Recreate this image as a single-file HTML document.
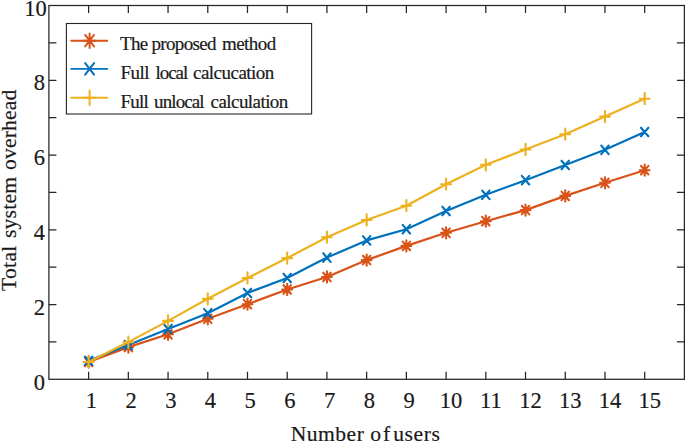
<!DOCTYPE html>
<html><head><meta charset="utf-8"><title>chart</title>
<style>html,body{margin:0;padding:0;background:#fff;}body{width:685px;height:442px;overflow:hidden;}svg{display:block;}text{font-family:"Liberation Serif",serif;fill:#1a1a1a;stroke:#1a1a1a;stroke-width:0.2px;}</style></head><body>
<svg width="685" height="442" viewBox="0 0 685 442">
<rect x="0" y="0" width="685" height="442" fill="#ffffff"/>
<g fill="none" stroke="#262626" stroke-width="1.25">
<rect x="48.90" y="5.50" width="635.50" height="373.80"/>
<path d="M88.62 379.30V371.80M88.62 5.50V13.00M128.34 379.30V371.80M128.34 5.50V13.00M168.06 379.30V371.80M168.06 5.50V13.00M207.78 379.30V371.80M207.78 5.50V13.00M247.49 379.30V371.80M247.49 5.50V13.00M287.21 379.30V371.80M287.21 5.50V13.00M326.93 379.30V371.80M326.93 5.50V13.00M366.65 379.30V371.80M366.65 5.50V13.00M406.37 379.30V371.80M406.37 5.50V13.00M446.09 379.30V371.80M446.09 5.50V13.00M485.81 379.30V371.80M485.81 5.50V13.00M525.52 379.30V371.80M525.52 5.50V13.00M565.24 379.30V371.80M565.24 5.50V13.00M604.96 379.30V371.80M604.96 5.50V13.00M644.68 379.30V371.80M644.68 5.50V13.00M48.90 341.92H56.40M684.40 341.92H676.90M48.90 304.54H56.40M684.40 304.54H676.90M48.90 267.16H56.40M684.40 267.16H676.90M48.90 229.78H56.40M684.40 229.78H676.90M48.90 192.40H56.40M684.40 192.40H676.90M48.90 155.02H56.40M684.40 155.02H676.90M48.90 117.64H56.40M684.40 117.64H676.90M48.90 80.26H56.40M684.40 80.26H676.90M48.90 42.88H56.40M684.40 42.88H676.90"/>
</g>
<g font-size="22.5">
<text x="45.10" y="389.50" text-anchor="end">0</text>
<text x="45.10" y="314.74" text-anchor="end">2</text>
<text x="45.10" y="239.98" text-anchor="end">4</text>
<text x="45.10" y="165.22" text-anchor="end">6</text>
<text x="45.10" y="90.46" text-anchor="end">8</text>
<text x="46.80" y="15.70" text-anchor="end">10</text>
<text x="91.32" y="408.40" text-anchor="middle">1</text>
<text x="131.04" y="408.40" text-anchor="middle">2</text>
<text x="170.76" y="408.40" text-anchor="middle">3</text>
<text x="210.47" y="408.40" text-anchor="middle">4</text>
<text x="250.19" y="408.40" text-anchor="middle">5</text>
<text x="289.91" y="408.40" text-anchor="middle">6</text>
<text x="329.63" y="408.40" text-anchor="middle">7</text>
<text x="369.35" y="408.40" text-anchor="middle">8</text>
<text x="409.07" y="408.40" text-anchor="middle">9</text>
<text x="451.09" y="408.40" text-anchor="middle">10</text>
<text x="490.81" y="408.40" text-anchor="middle">11</text>
<text x="530.52" y="408.40" text-anchor="middle">12</text>
<text x="570.24" y="408.40" text-anchor="middle">13</text>
<text x="609.96" y="408.40" text-anchor="middle">14</text>
<text x="649.68" y="408.40" text-anchor="middle">15</text>
</g>
<text x="290.70" y="441.00" textLength="73.20" lengthAdjust="spacing" font-size="21.60">Number</text>
<text x="370.30" y="441.00" textLength="19.80" lengthAdjust="spacing" font-size="21.60">of</text>
<text x="393.20" y="441.00" textLength="46.80" lengthAdjust="spacing" font-size="21.60">users</text>
<g transform="translate(15.6 0) rotate(-90)">
<text x="-291.10" y="0.00" textLength="45.40" lengthAdjust="spacing" font-size="21.60">Total</text>
<text x="-238.10" y="0.00" textLength="61.10" lengthAdjust="spacing" font-size="21.60">system</text>
<text x="-170.00" y="0.00" textLength="80.30" lengthAdjust="spacing" font-size="21.60">overhead</text>
</g>
<polyline points="88.62,362.00 128.34,347.10 168.06,334.30 207.78,318.80 247.49,304.20 287.21,289.50 326.93,277.00 366.65,260.10 406.37,245.90 446.09,232.80 485.81,221.20 525.52,210.10 565.24,195.90 604.96,182.80 644.68,170.20" fill="none" stroke="#D95319" stroke-width="2.20" stroke-linejoin="round" stroke-linecap="round"/>
<path d="M83.72 362.00H93.52M88.62 356.40V367.60M84.92 357.70L92.32 366.30M84.92 366.30L92.32 357.70M123.44 347.10H133.24M128.34 341.50V352.70M124.64 342.80L132.04 351.40M124.64 351.40L132.04 342.80M163.16 334.30H172.96M168.06 328.70V339.90M164.36 330.00L171.76 338.60M164.36 338.60L171.76 330.00M202.88 318.80H212.68M207.78 313.20V324.40M204.08 314.50L211.47 323.10M204.08 323.10L211.47 314.50M242.59 304.20H252.39M247.49 298.60V309.80M243.79 299.90L251.19 308.50M243.79 308.50L251.19 299.90M282.31 289.50H292.11M287.21 283.90V295.10M283.51 285.20L290.91 293.80M283.51 293.80L290.91 285.20M322.03 277.00H331.83M326.93 271.40V282.60M323.23 272.70L330.63 281.30M323.23 281.30L330.63 272.70M361.75 260.10H371.55M366.65 254.50V265.70M362.95 255.80L370.35 264.40M362.95 264.40L370.35 255.80M401.47 245.90H411.27M406.37 240.30V251.50M402.67 241.60L410.07 250.20M402.67 250.20L410.07 241.60M441.19 232.80H450.99M446.09 227.20V238.40M442.39 228.50L449.79 237.10M442.39 237.10L449.79 228.50M480.91 221.20H490.71M485.81 215.60V226.80M482.11 216.90L489.51 225.50M482.11 225.50L489.51 216.90M520.62 210.10H530.42M525.52 204.50V215.70M521.82 205.80L529.23 214.40M521.82 214.40L529.23 205.80M560.34 195.90H570.14M565.24 190.30V201.50M561.54 191.60L568.94 200.20M561.54 200.20L568.94 191.60M600.06 182.80H609.86M604.96 177.20V188.40M601.26 178.50L608.66 187.10M601.26 187.10L608.66 178.50M639.78 170.20H649.58M644.68 164.60V175.80M640.98 165.90L648.38 174.50M640.98 174.50L648.38 165.90" fill="none" stroke="#D95319" stroke-width="2.10" stroke-linecap="round"/>
<polyline points="88.62,360.80 128.34,345.10 168.06,329.00 207.78,313.20 247.49,293.00 287.21,278.00 326.93,257.60 366.65,240.40 406.37,229.20 446.09,211.00 485.81,194.80 525.52,180.20 565.24,165.00 604.96,149.80 644.68,132.00" fill="none" stroke="#0072BD" stroke-width="2.20" stroke-linejoin="round" stroke-linecap="round"/>
<path d="M84.92 356.50L92.32 365.10M84.92 365.10L92.32 356.50M124.64 340.80L132.04 349.40M124.64 349.40L132.04 340.80M164.36 324.70L171.76 333.30M164.36 333.30L171.76 324.70M204.08 308.90L211.47 317.50M204.08 317.50L211.47 308.90M243.79 288.70L251.19 297.30M243.79 297.30L251.19 288.70M283.51 273.70L290.91 282.30M283.51 282.30L290.91 273.70M323.23 253.30L330.63 261.90M323.23 261.90L330.63 253.30M362.95 236.10L370.35 244.70M362.95 244.70L370.35 236.10M402.67 224.90L410.07 233.50M402.67 233.50L410.07 224.90M442.39 206.70L449.79 215.30M442.39 215.30L449.79 206.70M482.11 190.50L489.51 199.10M482.11 199.10L489.51 190.50M521.82 175.90L529.23 184.50M521.82 184.50L529.23 175.90M561.54 160.70L568.94 169.30M561.54 169.30L568.94 160.70M601.26 145.50L608.66 154.10M601.26 154.10L608.66 145.50M640.98 127.70L648.38 136.30M640.98 136.30L648.38 127.70" fill="none" stroke="#0072BD" stroke-width="2.10" stroke-linecap="round"/>
<polyline points="88.62,362.00 128.34,342.10 168.06,320.90 207.78,298.80 247.49,278.00 287.21,258.10 326.93,237.20 366.65,220.00 406.37,205.70 446.09,184.20 485.81,164.80 525.52,149.50 565.24,134.20 604.96,116.60 644.68,98.70" fill="none" stroke="#EDB120" stroke-width="2.20" stroke-linejoin="round" stroke-linecap="round"/>
<path d="M83.72 362.00H93.52M88.62 356.40V367.60M123.44 342.10H133.24M128.34 336.50V347.70M163.16 320.90H172.96M168.06 315.30V326.50M202.88 298.80H212.68M207.78 293.20V304.40M242.59 278.00H252.39M247.49 272.40V283.60M282.31 258.10H292.11M287.21 252.50V263.70M322.03 237.20H331.83M326.93 231.60V242.80M361.75 220.00H371.55M366.65 214.40V225.60M401.47 205.70H411.27M406.37 200.10V211.30M441.19 184.20H450.99M446.09 178.60V189.80M480.91 164.80H490.71M485.81 159.20V170.40M520.62 149.50H530.42M525.52 143.90V155.10M560.34 134.20H570.14M565.24 128.60V139.80M600.06 116.60H609.86M604.96 111.00V122.20M639.78 98.70H649.58M644.68 93.10V104.30" fill="none" stroke="#EDB120" stroke-width="2.10" stroke-linecap="round"/>
<rect x="66.4" y="23.5" width="245.2" height="90.5" fill="#fff" stroke="#262626" stroke-width="1.1"/>
<path d="M71.2 40.70H107.3" stroke="#D95319" stroke-width="1.9" fill="none" stroke-linecap="round"/>
<path d="M83.60 40.70H95.60M89.60 33.50V47.90M85.15 34.95L94.05 46.45M85.15 46.45L94.05 34.95" fill="none" stroke="#D95319" stroke-width="2.0" stroke-linecap="round"/>
<text x="120.00" y="49.70" textLength="28.10" lengthAdjust="spacing" font-size="19.00">The</text>
<text x="151.50" y="49.70" textLength="65.00" lengthAdjust="spacing" font-size="19.00">proposed</text>
<text x="221.90" y="49.70" textLength="54.30" lengthAdjust="spacing" font-size="19.00">method</text>
<path d="M71.2 68.90H107.3" stroke="#0072BD" stroke-width="1.9" fill="none" stroke-linecap="round"/>
<path d="M85.15 63.15L94.05 74.65M85.15 74.65L94.05 63.15" fill="none" stroke="#0072BD" stroke-width="2.0" stroke-linecap="round"/>
<text x="120.50" y="79.30" textLength="29.00" lengthAdjust="spacing" font-size="19.00">Full</text>
<text x="155.40" y="79.30" textLength="32.90" lengthAdjust="spacing" font-size="19.00">local</text>
<text x="193.00" y="79.30" textLength="81.30" lengthAdjust="spacing" font-size="19.00">calcucation</text>
<path d="M71.2 97.70H107.3" stroke="#EDB120" stroke-width="1.9" fill="none" stroke-linecap="round"/>
<path d="M83.60 97.70H95.60M89.60 90.50V104.90" fill="none" stroke="#EDB120" stroke-width="2.0" stroke-linecap="round"/>
<text x="120.50" y="107.90" textLength="28.40" lengthAdjust="spacing" font-size="19.00">Full</text>
<text x="154.10" y="107.90" textLength="50.50" lengthAdjust="spacing" font-size="19.00">unlocal</text>
<text x="210.60" y="107.90" textLength="77.70" lengthAdjust="spacing" font-size="19.00">calculation</text>
</svg></body></html>
